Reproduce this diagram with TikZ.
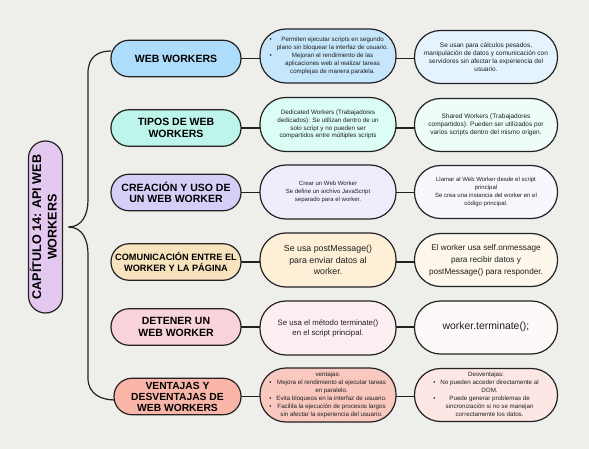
\documentclass[tikz,border=0pt]{standalone}
\usepackage{fontspec}
\setmainfont{Liberation Sans}
\usepackage{graphicx}
\definecolor{bg}{HTML}{EEEEEA}
\definecolor{linec}{HTML}{222222}
\definecolor{txt}{HTML}{1E1E1E}
\definecolor{root}{HTML}{E3C8F0}
\definecolor{la}{HTML}{AEDDFB}\definecolor{ma}{HTML}{C6E6FC}\definecolor{ra}{HTML}{E4F3FE}
\definecolor{lb}{HTML}{BDF5EA}\definecolor{mb}{HTML}{DCFDF5}\definecolor{rb}{HTML}{EEFDF9}
\definecolor{lc}{HTML}{D5CEF7}\definecolor{mc}{HTML}{EEEDFC}\definecolor{rc}{HTML}{F7F7FE}
\definecolor{ld}{HTML}{F7E4BE}\definecolor{md}{HTML}{FDF0D6}\definecolor{rd}{HTML}{FEF8EC}
\definecolor{le}{HTML}{F8D3D9}\definecolor{me}{HTML}{FDEFF1}\definecolor{re}{HTML}{FEF9F9}
\definecolor{lf}{HTML}{F8B5A8}\definecolor{mf}{HTML}{F9C8BF}\definecolor{rf}{HTML}{FDE7E5}
\newcommand{\bl}[1]{\textbullet & \begin{tabular}[t]{@{}c@{}}#1\end{tabular}}
\begin{document}
\begin{tikzpicture}[x=1pt,y=-1pt,
  every node/.style={inner sep=0pt, outer sep=0pt},
  lone/.style={draw=linec, line width=1.2pt, minimum width=130pt, minimum height=36.5pt,
    rounded corners=18pt, align=center, text=black,
    font=\bfseries\fontsize{10.5}{11.5}\selectfont},
  mid/.style={draw=linec, line width=1.2pt, minimum width=136pt, minimum height=54pt,
    rounded corners=26pt, align=center, text=txt, font=\fontsize{6.5}{8}\selectfont},
  rgt/.style={draw=linec, line width=1.2pt, minimum width=143pt, minimum height=53pt,
    rounded corners=26pt, align=center, text=txt, font=\fontsize{6.5}{8}\selectfont},
  conn/.style={draw=linec, line width=1.2pt}]
\fill[bg] (0,0) rectangle (589,449);
\useasboundingbox (0,0) rectangle (589,449);

% root
\node[draw=linec, line width=1.2pt, fill=root, minimum width=34pt, minimum height=172pt,
  rounded corners=17pt, text=black] (root) at (45.5,227)
  {\rotatebox{90}{\bfseries\fontsize{12.6}{15.5}\selectfont
   \begin{tabular}{@{}c@{}}CAPÍTULO 14: API WEB\\WORKERS\end{tabular}}};

% level 1
\node[lone, fill=la] (a1) at (176,58.5) {WEB WORKERS};
\node[lone, fill=lb] (b1) at (176,128) {TIPOS DE WEB\\WORKERS};
\node[lone, fill=lc] (c1) at (176,192.5) {CREACIÓN Y USO DE\\UN WEB WORKER};
\node[lone, fill=ld, font=\bfseries\fontsize{9.2}{10.2}\selectfont] (d1) at (176,262) {COMUNICACIÓN ENTRE EL\\WORKER Y LA PÁGINA};
\node[lone, fill=le] (e1) at (176,327) {DETENER UN\\WEB WORKER};
\node[lone, fill=lf, minimum width=127pt, font=\bfseries\fontsize{10.3}{11}\selectfont] (f1) at (177.5,396.5) {VENTAJAS Y\\DESVENTAJAS DE\\WEB WORKERS};

% middle column
\node[mid, fill=ma, font=\fontsize{6.2}{8}\selectfont] (a2) at (328,56) {\hspace*{2pt}\begin{tabular}{@{}c@{\hspace{5pt}}c@{}}
  \bl{Permiten ejecutar scripts en segundo\\plano sin bloquear la interfaz de usuario.}\\
  \bl{Mejoran el rendimiento de las\\aplicaciones web al realizar tareas\\complejas de manera paralela.}
  \end{tabular}};
\node[mid, fill=mb, font=\fontsize{6.3}{7.8}\selectfont] (b2) at (328,124.5) {Dedicated Workers (Trabajadores\\dedicados): Se utilizan dentro de un\\solo script y no pueden ser\\compartidos entre múltiples scripts};
\node[mid, fill=mc, font=\fontsize{6}{7.8}\selectfont] (c2) at (328,192) {Crear un Web Worker\\Se define un archivo JavaScript\\separado para el worker.};
\node[mid, fill=md, font=\fontsize{8.8}{11.7}\selectfont] (d2) at (328,260) {Se usa postMessage()\\para enviar datos al\\worker.};
\node[mid, fill=me, font=\fontsize{7.8}{10}\selectfont] (e2) at (328,328) {Se usa el método terminate()\\en el script principal.};
\node[mid, fill=mf, font=\fontsize{6.2}{7.9}\selectfont] (f2) at (328,395) {\begin{tabular}{@{}c@{\hspace{5pt}}c@{}}
  \multicolumn{2}{c}{ventajas:}\\
  \bl{Mejora el rendimiento al ejecutar tareas\\en paralelo.}\\
  \bl{Evita bloqueos en la interfaz de usuario.}\\
  \bl{Facilita la ejecución de procesos largos\\sin afectar la experiencia del usuario.}
  \end{tabular}};

% right column
\node[rgt, fill=ra] (a3) at (486,57) {Se usan para cálculos pesados,\\manipulación de datos y comunicación con\\servidores sin afectar la experiencia del\\usuario.};
\node[rgt, fill=rb] (b3) at (486,125) {Shared Workers (Trabajadores\\compartidos): Pueden ser utilizados por\\varios scripts dentro del mismo origen.};
\node[rgt, fill=rc, font=\fontsize{6}{7.8}\selectfont] (c3) at (486,192) {Llamar al Web Worker desde el script\\principal\\Se crea una instancia del worker en el\\código principal.};
\node[rgt, fill=rd, font=\fontsize{8.2}{12}\selectfont] (d3) at (486,260) {El worker usa self.onmessage\\para recibir datos y\\postMessage() para responder.};
\node[rgt, fill=re, font=\fontsize{10.4}{12}\selectfont] (e3) at (486,327.5) {\raisebox{4pt}{worker.terminate();}};
\node[rgt, fill=rf, font=\fontsize{6.2}{7.9}\selectfont] (f3) at (486,395) {\begin{tabular}{@{}c@{\hspace{5pt}}c@{}}
  \multicolumn{2}{c}{Desventajas:}\\
  \bl{No pueden acceder directamente al\\DOM.}\\
  \bl{Puede generar problemas de\\sincronización si no se manejan\\correctamente los datos.}
  \end{tabular}};

% connectors
\foreach \r in {a,b,c,d,e,f}{
  \draw[conn] (\r1.east) -- (\r1.east -| \r2.west);
  \draw[conn] (\r2.east |- \r1.east) -- (\r2.east |- \r1.east -| \r3.west);
}
% brace
\draw[conn] ([xshift=6pt]root.east) .. controls +(14,0) and (88,214) .. (88,200)
  -- (88,73) .. controls (88,56) and (99,51) .. ([yshift=7.5pt]a1.west);
\draw[conn] ([xshift=6pt]root.east) .. controls +(14,0) and (88,240) .. (88,254)
  -- (88,378) .. controls (88,394) and (101,400) .. ([yshift=-3.5pt,xshift=1pt]f1.west);
\end{tikzpicture}
\end{document}
